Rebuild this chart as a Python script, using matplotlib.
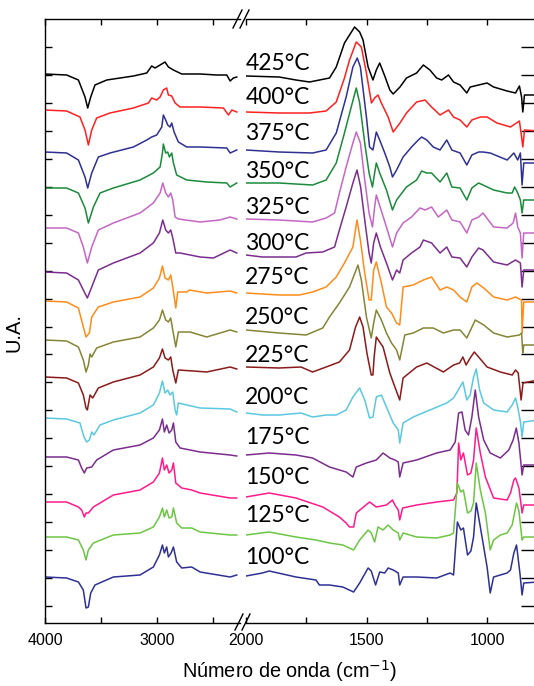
import matplotlib.pyplot as plt
import numpy as np
from matplotlib.lines import Line2D

# temperatures, top to bottom
temps = ["425°C", "400°C", "375°C", "350°C", "325°C", "300°C", "275°C",
         "250°C", "225°C", "200°C", "175°C", "150°C", "125°C", "100°C"]
colors = ["#000000", "#ff2020", "#2e3192", "#1b8a3c", "#c566c5", "#7b2d8e",
          "#ff8c1a", "#858535", "#8b1a1a", "#5bc8e0", "#7b2d8e", "#ff1a8c",
          "#6cc644", "#2e3192"]
label_y = [560, 526, 489, 451, 415, 379, 345, 305, 268, 226, 186, 146, 108, 66]

# spectra (wavenumber cm-1, U.A. with offset), high-wavenumber section
s425_left = [(4000, 549), (3807, 548), (3702, 543), (3643, 526), (3619, 515), (3592, 526),
             (3554, 538), (3449, 543), (3211, 547), (3092, 550), (3048, 557), (3018, 555),
             (2973, 558), (2929, 561), (2899, 556), (2854, 553), (2780, 549), (2616, 549),
             (2467, 548), (2378, 548), (2348, 542), (2319, 545), (2289, 546)]
s400_left = [(4000, 513), (3807, 512), (3688, 506), (3643, 493), (3613, 478), (3583, 493),
             (3539, 505), (3420, 510), (3211, 515), (3077, 520), (3048, 525), (3003, 523),
             (2973, 526), (2944, 533), (2914, 535), (2899, 528), (2869, 527), (2839, 520),
             (2795, 516), (2616, 516), (2408, 515), (2363, 508), (2333, 513), (2289, 511)]
s375_left = [(4000, 471), (3807, 470), (3702, 463), (3643, 446), (3619, 435), (3583, 450),
             (3524, 466), (3420, 470), (3211, 476), (3092, 483), (3048, 486), (3003, 488),
             (2958, 496), (2944, 508), (2923, 503), (2905, 498), (2884, 496), (2869, 500),
             (2848, 491), (2810, 481), (2735, 476), (2616, 476), (2378, 475), (2348, 470),
             (2289, 473)]
s350_left = [(4000, 435), (3807, 435), (3702, 430), (3643, 415), (3613, 400), (3568, 416),
             (3509, 430), (3390, 435), (3152, 443), (3033, 450), (2973, 456), (2952, 470),
             (2944, 479), (2923, 470), (2905, 471), (2890, 466), (2869, 470), (2854, 460),
             (2825, 448), (2735, 443), (2557, 441), (2378, 440), (2348, 436), (2289, 440)]
s325_left = [(4000, 395), (3807, 395), (3702, 390), (3658, 376), (3622, 360), (3583, 376),
             (3524, 393), (3390, 400), (3152, 410), (3033, 420), (2973, 430), (2949, 440),
             (2923, 430), (2899, 426), (2878, 430), (2860, 423), (2839, 406), (2810, 404),
             (2616, 401), (2438, 403), (2348, 406), (2289, 404)]
s300_left = [(4000, 351), (3807, 350), (3702, 343), (3658, 333), (3622, 325), (3583, 336),
             (3524, 353), (3390, 360), (3152, 370), (3033, 380), (2979, 390), (2949, 403),
             (2923, 393), (2899, 390), (2878, 393), (2860, 385), (2833, 370), (2795, 370),
             (2616, 366), (2497, 365), (2348, 373), (2289, 370)]
s275_left = [(4000, 322), (3807, 321), (3702, 315), (3658, 296), (3634, 286), (3604, 290),
             (3583, 306), (3524, 316), (3390, 321), (3152, 326), (3033, 335), (2979, 345),
             (2952, 357), (2929, 345), (2899, 343), (2878, 348), (2860, 336), (2833, 315),
             (2816, 331), (2735, 331), (2711, 333), (2557, 330), (2348, 332), (2289, 330)]
s250_left = [(4000, 283), (3807, 282), (3702, 276), (3658, 263), (3634, 251), (3613, 258),
             (3598, 269), (3583, 266), (3539, 275), (3390, 281), (3152, 286), (3033, 295),
             (2979, 303), (2952, 313), (2923, 303), (2899, 301), (2878, 305), (2860, 293),
             (2833, 276), (2810, 291), (2705, 291), (2557, 286), (2348, 293), (2289, 291)]
s225_left = [(4000, 246), (3807, 245), (3702, 240), (3658, 228), (3634, 215), (3622, 213),
             (3598, 228), (3574, 225), (3524, 235), (3390, 241), (3152, 248), (3033, 256),
             (2979, 265), (2952, 274), (2929, 265), (2899, 263), (2878, 266), (2860, 253),
             (2833, 240), (2810, 253), (2676, 252), (2557, 251), (2348, 256), (2289, 254)]
s200_left = [(4000, 205), (3807, 204), (3688, 200), (3652, 186), (3628, 181), (3604, 183),
             (3583, 191), (3563, 188), (3509, 198), (3390, 203), (3152, 210), (3033, 218),
             (2979, 230), (2952, 242), (2929, 230), (2905, 233), (2884, 228), (2860, 231),
             (2839, 213), (2825, 208), (2810, 220), (2735, 218), (2616, 215), (2348, 214),
             (2289, 211)]
s175_left = [(4000, 166), (3807, 166), (3702, 163), (3673, 155), (3649, 150), (3628, 155),
             (3583, 156), (3539, 163), (3390, 173), (3152, 178), (3033, 185), (2979, 193),
             (2952, 204), (2935, 191), (2914, 198), (2893, 190), (2869, 193), (2854, 200),
             (2833, 181), (2795, 175), (2616, 171), (2348, 168), (2289, 167)]
s150_left = [(4000, 121), (3807, 121), (3702, 116), (3673, 113), (3649, 106), (3634, 110),
             (3613, 110), (3568, 116), (3390, 128), (3152, 133), (3033, 141), (2979, 150),
             (2952, 165), (2935, 153), (2914, 158), (2893, 150), (2869, 153), (2854, 160),
             (2833, 140), (2780, 135), (2691, 133), (2616, 130), (2348, 125), (2289, 125)]
s125_left = [(4000, 86), (3807, 86), (3702, 83), (3658, 73), (3634, 63), (3613, 73),
             (3568, 80), (3390, 88), (3152, 90), (3033, 96), (2979, 106), (2952, 115),
             (2935, 106), (2914, 113), (2893, 105), (2869, 106), (2854, 115), (2825, 100),
             (2780, 95), (2691, 95), (2616, 91), (2348, 88), (2289, 88)]
s100_left = [(4000, 46), (3807, 45), (3702, 41), (3658, 33), (3634, 15), (3613, 16),
             (3592, 30), (3554, 38), (3390, 46), (3152, 48), (3033, 56), (2979, 68),
             (2952, 78), (2935, 70), (2914, 76), (2899, 66), (2875, 70), (2854, 76),
             (2825, 61), (2780, 55), (2691, 56), (2616, 51), (2348, 46), (2289, 48)]

# fingerprint section
s425_right = [(2000, 547), (1863, 546), (1793, 543), (1737, 541), (1654, 545), (1626, 556),
              (1592, 580), (1571, 588), (1550, 596), (1529, 591), (1515, 583), (1494, 556),
              (1474, 543), (1460, 553), (1446, 560), (1425, 547), (1404, 533), (1390, 529),
              (1362, 536), (1335, 545), (1293, 550), (1265, 558), (1238, 553), (1210, 545),
              (1189, 543), (1161, 548), (1140, 541), (1113, 538), (1085, 530), (1071, 536),
              (1036, 538), (1001, 540), (974, 536), (918, 532), (883, 530), (867, 537),
              (858, 526), (853, 511), (846, 528), (790, 528)]
s400_right = [(2000, 511), (1863, 510), (1737, 510), (1668, 512), (1626, 521), (1592, 545),
              (1571, 563), (1543, 581), (1522, 576), (1501, 550), (1480, 520), (1467, 525),
              (1453, 528), (1439, 520), (1411, 506), (1390, 491), (1362, 500), (1335, 510),
              (1293, 521), (1258, 523), (1231, 516), (1196, 508), (1161, 513), (1140, 506),
              (1113, 503), (1085, 496), (1064, 503), (1029, 506), (1001, 506), (960, 500),
              (904, 496), (867, 502), (858, 486), (853, 476), (846, 493), (790, 492)]
s375_right = [(2000, 473), (1863, 471), (1724, 470), (1668, 473), (1626, 490), (1585, 526),
              (1557, 556), (1539, 565), (1526, 556), (1501, 506), (1488, 476), (1474, 473),
              (1460, 491), (1446, 483), (1425, 470), (1404, 456), (1393, 446), (1376, 453),
              (1349, 466), (1314, 476), (1286, 483), (1272, 486), (1251, 483), (1224, 476),
              (1196, 473), (1168, 483), (1147, 473), (1113, 470), (1085, 458), (1064, 468),
              (1036, 471), (1018, 471), (988, 470), (918, 463), (890, 470), (874, 463),
              (863, 470), (856, 438), (849, 460), (790, 460)]
s350_right = [(2000, 440), (1863, 440), (1724, 438), (1668, 443), (1626, 460), (1592, 490),
              (1564, 516), (1543, 535), (1529, 520), (1508, 480), (1490, 450), (1476, 436),
              (1467, 450), (1460, 460), (1446, 450), (1418, 433), (1393, 413), (1376, 423),
              (1335, 436), (1293, 443), (1272, 452), (1251, 450), (1231, 450), (1196, 441),
              (1168, 450), (1147, 436), (1113, 435), (1085, 423), (1064, 435), (1036, 440),
              (1018, 438), (974, 433), (918, 430), (897, 430), (887, 436), (874, 430),
              (863, 423), (856, 410), (849, 423), (790, 423)]
s325_right = [(2000, 404), (1863, 403), (1724, 401), (1668, 405), (1633, 410), (1613, 430),
              (1585, 456), (1557, 480), (1543, 491), (1526, 480), (1508, 443), (1490, 410),
              (1476, 396), (1467, 416), (1460, 428), (1443, 415), (1418, 396), (1393, 376),
              (1376, 390), (1349, 400), (1314, 406), (1279, 415), (1258, 413), (1231, 416),
              (1203, 406), (1168, 413), (1147, 403), (1113, 401), (1085, 390), (1064, 403),
              (1036, 406), (1018, 410), (974, 396), (918, 395), (893, 400), (883, 410),
              (874, 396), (863, 390), (856, 365), (849, 390), (790, 390)]
s300_right = [(2000, 368), (1932, 366), (1793, 366), (1751, 370), (1682, 371), (1633, 376),
              (1613, 393), (1585, 416), (1557, 440), (1540, 453), (1525, 436), (1508, 403),
              (1490, 370), (1481, 360), (1471, 380), (1460, 390), (1443, 376), (1418, 360),
              (1393, 343), (1376, 353), (1363, 350), (1349, 363), (1314, 370), (1279, 376),
              (1265, 383), (1231, 380), (1196, 370), (1168, 376), (1147, 366), (1113, 365),
              (1085, 356), (1064, 366), (1036, 375), (1018, 373), (974, 361), (918, 358),
              (883, 363), (863, 360), (856, 336), (849, 353), (790, 353)]
s275_right = [(2000, 330), (1863, 328), (1779, 328), (1724, 331), (1668, 336), (1626, 346),
              (1592, 360), (1557, 376), (1540, 403), (1526, 383), (1508, 350), (1490, 323),
              (1481, 323), (1471, 353), (1460, 361), (1439, 340), (1418, 316), (1397, 310),
              (1376, 300), (1363, 298), (1349, 336), (1307, 338), (1265, 343), (1231, 346),
              (1196, 333), (1168, 336), (1140, 333), (1113, 326), (1085, 321), (1064, 336),
              (1043, 340), (1015, 335), (974, 326), (918, 323), (883, 326), (867, 324),
              (858, 323), (856, 290), (849, 321), (790, 321)]
s250_right = [(2000, 293), (1863, 290), (1751, 288), (1682, 295), (1654, 306), (1613, 320),
              (1571, 336), (1536, 358), (1522, 343), (1501, 306), (1481, 285), (1471, 300),
              (1460, 313), (1439, 303), (1418, 290), (1397, 280), (1376, 273), (1363, 263),
              (1342, 288), (1307, 290), (1265, 295), (1224, 295), (1182, 290), (1140, 293),
              (1113, 293), (1085, 285), (1050, 303), (1015, 298), (974, 290), (918, 286),
              (867, 288), (858, 290), (853, 270), (849, 278), (790, 278)]
s225_right = [(2000, 256), (1863, 255), (1772, 256), (1724, 251), (1668, 256), (1613, 261),
              (1571, 273), (1546, 296), (1529, 306), (1515, 296), (1499, 270), (1481, 248),
              (1474, 248), (1469, 266), (1460, 286), (1432, 276), (1404, 250), (1383, 236),
              (1363, 223), (1349, 245), (1293, 256), (1251, 260), (1182, 251), (1140, 258),
              (1115, 260), (1101, 266), (1088, 258), (1071, 265), (1054, 271), (1036, 266),
              (1001, 256), (946, 251), (897, 248), (883, 253), (872, 250), (860, 223),
              (852, 240), (790, 243)]
s200_right = [(2000, 210), (1932, 208), (1863, 208), (1772, 210), (1724, 206), (1668, 208),
              (1626, 208), (1585, 213), (1557, 226), (1529, 235), (1508, 223), (1488, 205),
              (1474, 206), (1460, 226), (1439, 228), (1418, 216), (1390, 200), (1369, 193),
              (1363, 180), (1349, 200), (1307, 206), (1238, 213), (1168, 220), (1140, 225),
              (1113, 236), (1101, 241), (1085, 223), (1071, 228), (1057, 246), (1046, 254),
              (1032, 233), (1015, 220), (974, 213), (918, 211), (897, 218), (883, 225),
              (874, 216), (862, 200), (856, 186), (849, 201), (790, 203)]
s175_right = [(2000, 168), (1904, 170), (1793, 168), (1724, 165), (1654, 156), (1585, 151),
              (1557, 146), (1543, 156), (1501, 160), (1460, 163), (1432, 170), (1404, 165),
              (1383, 163), (1369, 161), (1363, 146), (1349, 160), (1293, 163), (1210, 170),
              (1154, 173), (1133, 181), (1119, 210), (1105, 211), (1092, 193), (1078, 188),
              (1064, 206), (1050, 233), (1036, 206), (1015, 183), (988, 170), (946, 165),
              (911, 173), (893, 183), (880, 195), (869, 180), (860, 158), (856, 148),
              (849, 158), (790, 158)]
s150_right = [(2000, 126), (1904, 130), (1793, 125), (1682, 116), (1613, 106), (1585, 100),
              (1571, 96), (1554, 96), (1543, 110), (1488, 121), (1460, 116), (1418, 118),
              (1393, 123), (1383, 118), (1369, 113), (1363, 103), (1351, 115), (1293, 118),
              (1210, 121), (1140, 123), (1126, 130), (1119, 180), (1110, 163), (1099, 170),
              (1082, 148), (1068, 150), (1057, 163), (1046, 195), (1029, 170), (1008, 146),
              (974, 125), (918, 123), (904, 130), (890, 143), (883, 145), (869, 135),
              (860, 118), (856, 110), (849, 118), (790, 118)]
s125_right = [(2000, 88), (1904, 91), (1793, 86), (1710, 83), (1654, 80), (1599, 78),
              (1554, 73), (1529, 83), (1494, 93), (1481, 90), (1467, 81), (1453, 96),
              (1432, 93), (1411, 98), (1390, 93), (1369, 90), (1363, 83), (1349, 90),
              (1293, 86), (1210, 85), (1154, 88), (1140, 90), (1124, 140), (1110, 131),
              (1099, 133), (1082, 110), (1068, 112), (1057, 120), (1046, 160), (1029, 133),
              (1008, 110), (988, 73), (974, 83), (946, 88), (918, 90), (897, 98),
              (879, 120), (869, 112), (856, 83), (849, 86), (790, 86)]
s100_right = [(2000, 47), (1932, 50), (1904, 52), (1793, 46), (1710, 43), (1696, 38),
              (1654, 38), (1599, 36), (1554, 31), (1529, 40), (1494, 55), (1481, 52),
              (1463, 38), (1446, 51), (1425, 50), (1411, 55), (1390, 53), (1369, 50),
              (1363, 38), (1349, 46), (1293, 46), (1210, 45), (1154, 50), (1140, 48),
              (1124, 101), (1110, 93), (1099, 95), (1082, 68), (1068, 72), (1057, 86),
              (1046, 120), (1029, 96), (1001, 56), (988, 30), (974, 46), (918, 50),
              (904, 53), (890, 70), (879, 78), (865, 50), (856, 28), (849, 40), (790, 41)]

left_spectra = [s425_left, s400_left, s375_left, s350_left, s325_left, s300_left, s275_left,
                s250_left, s225_left, s200_left, s175_left, s150_left, s125_left, s100_left]
right_spectra = [s425_right, s400_right, s375_right, s350_right, s325_right, s300_right,
                 s275_right, s250_right, s225_right, s200_right, s175_right, s150_right,
                 s125_right, s100_right]

W, H = 534, 686
fig = plt.figure(figsize=(W / 100, H / 100), dpi=100)
ax_l = fig.add_axes([45 / W, 63 / H, 195 / W, 604 / H])
ax_r = fig.add_axes([246 / W, 63 / H, 292 / W, 604 / H])

for left, right, c in zip(left_spectra, right_spectra, colors):
    x, y = zip(*left)
    ax_l.plot(x, y, color=c, lw=1.1)
    x, y = zip(*right)
    ax_r.plot(x, y, color=c, lw=1.1)

for t, ty in zip(temps, label_y):
    ax_r.text(2003, ty, t, ha="left", va="center", fontsize=16.5, family="Lato")

yticks = np.linspace(17, 576, 21)
for ax in (ax_l, ax_r):
    ax.set_ylim(0, 604)
    ax.set_yticks(yticks)
    ax.set_yticklabels([])
    for s in ax.spines.values():
        s.set_linewidth(1.0)
    ax.tick_params(direction="in", labelsize=11.5, pad=7, top=True, width=1.0)

ax_l.set_xlim(4000, 2260)
ax_l.set_xticks([4000, 3500, 3000, 2500])
ax_l.set_xticklabels(["4000", "", "3000", ""], family="Liberation Sans")
ax_l.spines["right"].set_visible(False)
ax_l.tick_params(axis="y", length=5, left=True, right=False)
ax_l.tick_params(axis="x", length=4)

ax_r.set_xlim(2000, 790)
ax_r.set_xticks([2000, 1750, 1500, 1250, 1000])
ax_r.set_xticklabels(["2000", "", "1500", "", "1000"], family="Liberation Sans")
ax_r.spines["left"].set_visible(False)
ax_r.tick_params(axis="y", length=12, left=False, right=True)
ax_r.tick_params(axis="x", length=4)

# axis break marks
for x0 in (233, 240):
    fig.add_artist(Line2D([x0 / W, (x0 + 9) / W], [1 - 28 / H, 1 - 10 / H],
                          color="black", lw=1.0))
for x0 in (235, 242):
    fig.add_artist(Line2D([x0 / W, (x0 + 8) / W], [1 - 630 / H, 1 - 614 / H],
                          color="black", lw=1.0))

fig.text(14 / W, 1 - 332 / H, "U.A.", rotation=90, ha="center", va="center",
         fontsize=14.5, family="Liberation Sans")
fig.text(290 / W, 8 / H, "Número de onda (cm$^{-1}$)", ha="center", va="baseline",
         fontsize=14.3, family="Liberation Sans")

fig.savefig("out.png", dpi=100)
